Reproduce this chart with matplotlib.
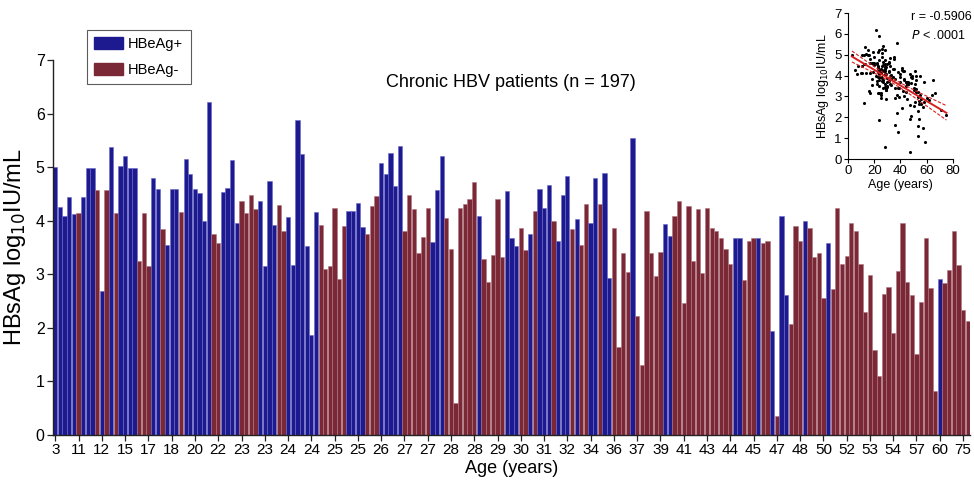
import numpy as np
import matplotlib
matplotlib.use("Agg")
import matplotlib.pyplot as plt
from matplotlib.patches import Patch

# ---------------- data ----------------
# HBsAg (log10 IU/mL) per patient, sorted by age (197 patients)
hbsag = [
    5.00, 4.26, 4.08, 4.44, 4.12, 4.14, 4.44, 4.98, 4.98, 4.57,
    2.68, 4.57, 5.38, 4.14, 5.02, 5.21, 4.98, 4.98, 3.25, 4.14,
    3.16, 4.79, 4.60, 3.85, 3.54, 4.59, 4.59, 4.16, 5.15, 4.88,
    4.60, 4.52, 4.00, 6.21, 3.75, 3.58, 4.54, 4.62, 5.13, 3.95,
    4.36, 4.15, 4.48, 4.21, 4.36, 3.16, 4.74, 3.92, 4.29, 3.81,
    4.07, 3.17, 5.89, 5.24, 3.52, 1.87, 4.16, 3.92, 3.09, 3.16,
    4.23, 2.92, 3.91, 4.18, 4.18, 4.34, 3.89, 3.76, 4.28, 4.47,
    5.07, 4.88, 5.26, 4.64, 5.40, 3.80, 4.49, 4.21, 3.39, 3.70,
    4.23, 3.60, 4.57, 5.21, 4.06, 3.47, 0.59, 4.23, 4.32, 4.40,
    4.73, 4.08, 3.29, 2.86, 3.36, 4.41, 3.32, 4.56, 3.67, 3.52,
    3.87, 3.45, 3.76, 4.19, 4.60, 4.23, 4.67, 4.00, 3.62, 4.48,
    4.84, 3.84, 4.03, 3.54, 4.31, 3.95, 4.79, 4.31, 4.90, 2.94,
    3.86, 1.65, 3.39, 3.05, 5.55, 2.22, 1.31, 4.19, 3.39, 2.96,
    3.42, 3.94, 3.71, 4.08, 4.37, 2.46, 4.27, 3.25, 4.21, 3.02,
    4.23, 3.86, 3.81, 3.68, 3.48, 3.20, 3.68, 3.68, 2.90, 3.62,
    3.68, 3.68, 3.58, 3.62, 1.94, 0.35, 4.08, 2.61, 2.08, 3.91,
    3.63, 4.00, 3.87, 3.32, 3.40, 2.55, 3.59, 2.72, 4.23, 3.19,
    3.35, 3.96, 3.80, 3.19, 2.30, 2.99, 1.59, 1.10, 2.63, 2.76,
    1.90, 3.07, 3.96, 2.86, 2.62, 1.51, 2.48, 3.68, 2.74, 0.83,
    2.92, 2.83, 3.08, 3.81, 3.17, 2.33, 2.13,
]
# HBeAg status per patient: '+' positive, '-' negative
status = (
    "+++++-+++-" "+-+-++++--"
    "-++-+++-++" "++++--++++"
    "----++++--" "+++++++---"
    "---++++---" "+++++-----"
    "-+++------" "-+-----+++"
    "--+-+++-++" "+-+--++-++"
    "----+-----" "-++-------"
    "------++--" "-+--+-++--"
    "-+----+---" "----------"
    "----------" "+------"
)
# patient ages (years), used for the inset scatter
ages = [
    3, 5, 7, 8, 10, 11, 11, 11, 12, 12,
    12, 13, 13, 14, 14, 15, 15, 16, 16, 17,
    17, 17, 17, 18, 18, 18, 19, 19, 19, 20,
    20, 20, 21, 21, 22, 22, 22, 22, 23, 23,
    23, 23, 23, 23, 23, 23, 24, 24, 24, 24,
    24, 24, 24, 24, 24, 24, 25, 25, 25, 25,
    25, 25, 25, 25, 25, 25, 26, 26, 26, 26,
    26, 26, 26, 27, 27, 27, 27, 27, 27, 27,
    27, 28, 28, 28, 28, 28, 28, 28, 28, 28,
    28, 29, 29, 29, 29, 29, 29, 30, 30, 30,
    30, 30, 31, 31, 31, 31, 31, 32, 32, 32,
    32, 33, 33, 33, 34, 34, 35, 35, 35, 36,
    36, 36, 36, 37, 37, 37, 38, 38, 38, 39,
    39, 40, 40, 40, 41, 41, 41, 42, 42, 43,
    43, 43, 43, 44, 44, 44, 44, 45, 45, 45,
    45, 46, 46, 46, 47, 47, 47, 47, 48, 48,
    48, 49, 49, 50, 50, 50, 51, 51, 51, 52,
    52, 52, 52, 53, 53, 53, 53, 53, 54, 54,
    54, 55, 55, 56, 56, 57, 57, 58, 58, 59,
    60, 62, 64, 65, 66, 71, 75,
]
# x tick labels shown every 5th patient
tick_labels = ["3", "11", "12", "15", "17", "18", "20", "22", "23", "23",
               "24", "24", "25", "25", "26", "27", "27", "28", "28", "29",
               "30", "31", "32", "34", "36", "37", "39", "41", "43", "44",
               "45", "47", "48", "50", "52", "53", "54", "57", "60", "75"]
series_names = ["HBeAg+", "HBeAg-"]
r_text = "r = -0.5906"

# ---------------- styling ----------------
plt.rcParams["font.family"] = ["Liberation Sans", "DejaVu Sans"]

BLUE = "#1c1a8e"
MAROON = "#7a2736"

fig = plt.figure(figsize=(9.74, 4.92), dpi=100)
ax = fig.add_axes([0.0544, 0.1159, 0.9415, 0.762])

n = len(hbsag)
x = np.arange(n)
colors = [BLUE if s == "+" else MAROON for s in status[:n]]
edge = ["#6a68c8" if s == "+" else "#b07680" for s in status[:n]]
ax.bar(x, hbsag, width=0.92, color=colors, edgecolor=edge, linewidth=0.4)

ax.set_xlim(-0.5, n - 0.5)
ax.set_ylim(0, 7)
ax.set_yticks(range(0, 8))
ax.set_xticks(x[::5][:len(tick_labels)])
ax.set_xticklabels(tick_labels, fontsize=11)
for lab in ax.get_yticklabels():
    lab.set_fontsize(11.5)
ax.tick_params(axis="both", direction="out", length=4, width=0.9, color="#222222")
ax.tick_params(axis="x", pad=2)
ax.tick_params(axis="y", pad=2)
for s in ["top", "right"]:
    ax.spines[s].set_visible(False)
for s in ["left", "bottom"]:
    ax.spines[s].set_linewidth(1.0)
    ax.spines[s].set_color("#222222")

ax.set_ylabel("HBsAg log$_{10}$IU/mL", fontsize=17)
ax.yaxis.set_label_coords(-0.027, 0.5)
ax.set_xlabel("Age (years)", fontsize=13, labelpad=2)
fig.text(0.524, 0.833, "Chronic HBV patients (n = 197)", fontsize=13,
         ha="center", va="center")

handles = [Patch(facecolor=BLUE, edgecolor=BLUE), Patch(facecolor=MAROON, edgecolor=MAROON)]
leg = fig.legend(handles, series_names, loc="upper left",
                 bbox_to_anchor=(0.089, 0.94), frameon=True, fancybox=False,
                 edgecolor="#333333", fontsize=10.5, handlelength=2.0,
                 handleheight=0.9, borderpad=0.5, labelspacing=0.8,
                 handletextpad=0.35, borderaxespad=0)
leg.get_frame().set_linewidth(0.8)

# ---------------- inset ----------------
ins = fig.add_axes([0.8706, 0.6768, 0.1078, 0.2967])
ag = np.array(ages[:n], dtype=float)
hv = np.array(hbsag, dtype=float)
ins.scatter(ag, hv, s=5, color="black", zorder=3, linewidths=0)
b1, b0 = np.polyfit(ag, hv, 1)
xx = np.linspace(ag.min(), ag.max(), 100)
yy = b0 + b1 * xx
resid = hv - (b0 + b1 * ag)
se = np.sqrt(np.sum(resid ** 2) / (n - 2))
ci = 1.97 * se * np.sqrt(1 / n + (xx - ag.mean()) ** 2 / np.sum((ag - ag.mean()) ** 2))
ins.plot(xx, yy, color="#d62020", lw=1.4, zorder=4)
ins.plot(xx, yy + ci, color="#d62020", lw=0.8, ls=(0, (3, 1.5)), zorder=4)
ins.plot(xx, yy - ci, color="#d62020", lw=0.8, ls=(0, (3, 1.5)), zorder=4)
ins.set_xlim(0, 80)
ins.set_ylim(0, 7)
ins.set_xticks([0, 20, 40, 60, 80])
ins.set_yticks(range(0, 8))
ins.tick_params(labelsize=9.5, length=3, width=0.8, pad=1.5)
for s in ["top", "right"]:
    ins.spines[s].set_visible(False)
ins.patch.set_alpha(0)
ins.set_xlabel("Age (years)", fontsize=9, labelpad=1)
ins.set_ylabel("HBsAg log$_{10}$IU/mL", fontsize=9, labelpad=2)
ins.text(0.6, 0.97, r_text, transform=ins.transAxes, fontsize=9, va="center", ha="left")
ins.text(0.6, 0.845, "$\\mathit{P}$ < .0001", transform=ins.transAxes, fontsize=9,
         va="center", ha="left")

fig.savefig("out.png", dpi=100)
